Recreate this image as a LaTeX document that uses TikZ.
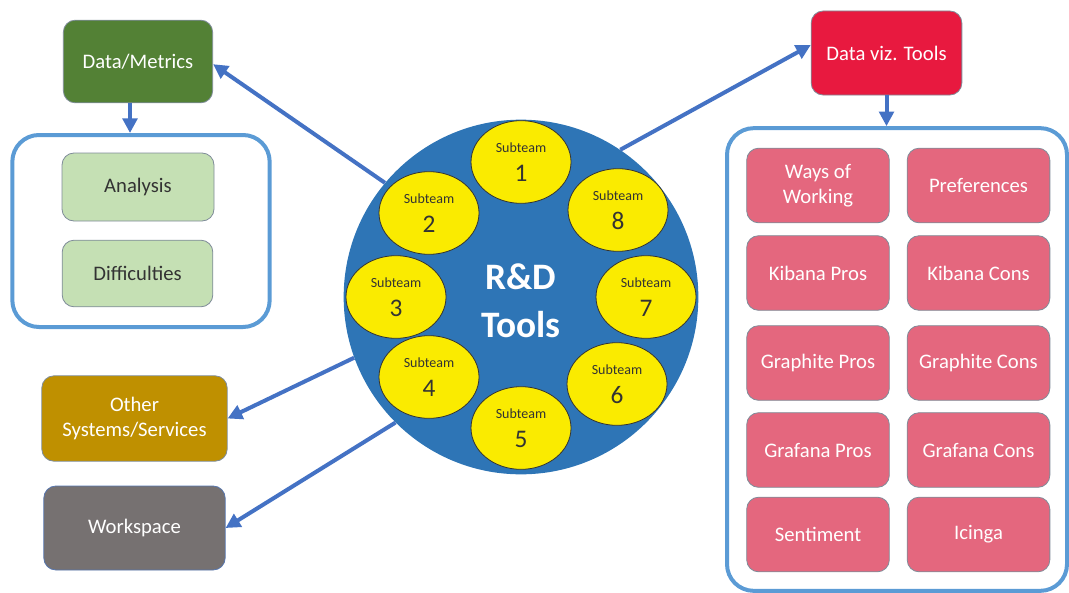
\documentclass[tikz,border=0pt]{standalone}
\usepackage{fontspec}
\setmainfont{Carlito}
\usetikzlibrary{arrows.meta,calc,shapes.geometric}
\definecolor{arrowblue}{HTML}{4472C4}
\definecolor{framecol}{HTML}{5B9BD5}
\definecolor{metricgreen}{HTML}{538135}
\definecolor{palegreen}{HTML}{C5E0B4}
\definecolor{vizred}{HTML}{E8193F}
\definecolor{pinkbox}{HTML}{E4677E}
\definecolor{gold}{HTML}{BF9000}
\definecolor{greybox}{HTML}{767171}
\definecolor{hubblue}{HTML}{2E75B6}
\definecolor{teamyellow}{HTML}{FAEB00}
\definecolor{edgegrey}{HTML}{7F8C99}
\definecolor{darktext}{HTML}{333333}
\begin{document}
\begin{tikzpicture}[x=0.75pt,y=-0.75pt,
  box/.style={rectangle,rounded corners=9pt,draw=edgegrey,line width=0.6pt,
    align=center,text=white,font=\fontsize{15.5}{18.5}\selectfont,inner sep=2pt},
  frame/.style={rectangle,rounded corners=20pt,draw=framecol,line width=3pt},
  link/.style={draw=arrowblue,line width=3pt,-{Triangle[length=11pt,width=11pt]}},
  team/.style={ellipse,draw=black!80,line width=0.6pt,fill=teamyellow,
    minimum width=75pt,minimum height=62pt,inner sep=0pt,align=center,text=darktext,
    font=\fontsize{19}{22}\selectfont},
  pink/.style={box,fill=pinkbox,minimum width=107pt,minimum height=56pt}]
\useasboundingbox (0,0) rectangle (1069,592);

% containers
\node[frame,minimum width=193pt,minimum height=144pt] (lbox) at (141,231) {};
\node[frame,minimum width=255pt,minimum height=347pt] (rbox) at (897,359.5) {};

% left side boxes
\node[box,fill=metricgreen,minimum width=112pt,minimum height=62pt] (dm) at (138,61.5) {Data/Metrics};
\node[box,fill=palegreen,text=darktext,minimum width=114pt,minimum height=51pt] (an) at (138,187) {Analysis};
\node[box,fill=palegreen,text=darktext,minimum width=113pt,minimum height=50pt] (df) at (137.5,273.5) {Difficulties};
\node[box,fill=gold,minimum width=139pt,minimum height=64pt] (os) at (134.5,418.5) {Other\\Systems/Services};
\node[box,fill=greybox,draw=arrowblue!70!gray,minimum width=136pt,minimum height=63pt] (ws) at (134.5,528) {Workspace};

% right side boxes
\node[box,fill=vizred,minimum width=113pt,minimum height=63pt] (dv) at (886.5,53) {Data viz. Tools};
\node[pink] (p1) at (818,185.5) {Ways of\\Working};
\node[pink] (p2) at (978.5,185.5) {Preferences};
\node[pink] (p3) at (818,273) {Kibana Pros};
\node[pink] (p4) at (978.5,273) {Kibana Cons};
\node[pink] (p5) at (818,363) {Graphite Pros};
\node[pink] (p6) at (978.5,363) {Graphite Cons};
\node[pink] (p7) at (818,450) {Grafana Pros};
\node[pink] (p8) at (978.5,450) {Grafana Cons};
\node[pink] (p9) at (818,534.5) {Sentiment};
\node[pink] (p10) at (978.5,534.5) {Icinga};

% central hub with the eight subteams
\node[circle,fill=hubblue,minimum size=266pt,inner sep=0pt] (rd) at (521,297) {};
\node[align=center,text=white,font=\bfseries\fontsize{28}{36}\selectfont] (rdt) at (521,301) {R\&D\\Tools};
\foreach \n/\x/\y in {1/521/162,2/429/213,3/396/297,4/429/377,5/521/428,6/617/384,7/646/297,8/618/210}{
  \node[team] (t\n) at (\x,\y)
    {{\fontsize{10.5}{12}\selectfont Subteam}\\\n};
}

% connectors
\draw[link] (rd.140) -- ([yshift=-2pt]dm.east);
\draw[link] (rd.56) -- ([yshift=6pt]dv.west);
\draw[link] (rd.200) -- (os.east);
\draw[link] (rd.225) -- (ws.east);
\draw[link] ([xshift=-6pt]dm.south) -- ([xshift=-6pt]dm.south |- lbox.north);
\draw[link] (dv.south) -- (dv.south |- rbox.north);
\end{tikzpicture}
\end{document}
